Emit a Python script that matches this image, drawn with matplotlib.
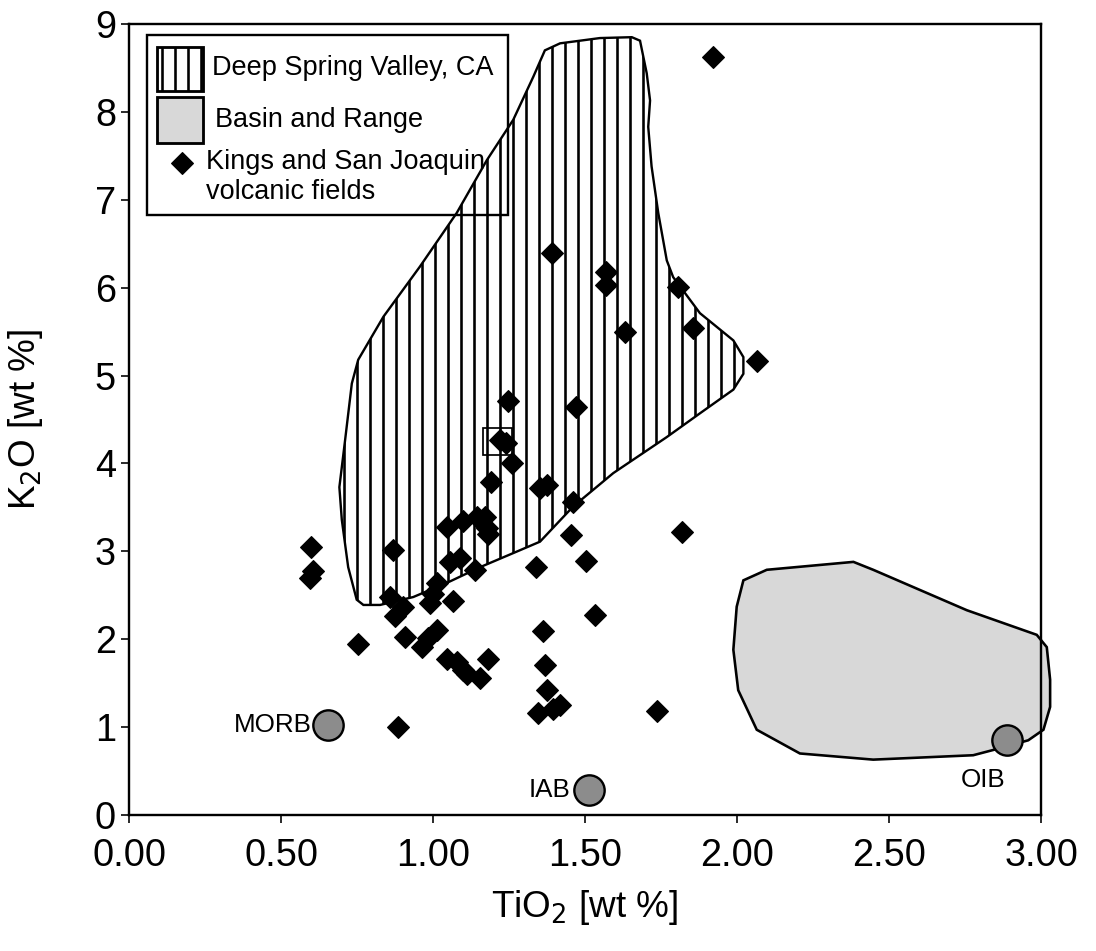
import numpy as np
import matplotlib
matplotlib.use("Agg")
import matplotlib.pyplot as plt
from matplotlib.patches import Polygon, Rectangle

plt.rcParams['font.family'] = ['Liberation Sans', 'DejaVu Sans']
plt.rcParams['hatch.linewidth'] = 2.4

# Kings and San Joaquin volcanic fields (TiO2, K2O)
tio2 = [1.92, 1.39, 1.57, 1.57, 1.805, 1.632, 1.854, 2.065, 1.246, 1.47,
        1.22, 1.24, 1.259, 1.19, 1.352, 1.374, 1.46, 1.045, 1.10, 1.144,
        1.171, 1.182, 1.176, 0.87, 0.60, 0.595, 0.605, 1.056, 1.089, 1.138,
        0.859, 0.902, 0.875, 1.012, 1.00, 0.99, 1.067, 0.908, 0.754, 1.012,
        0.985, 0.963, 1.045, 1.078, 1.10, 1.155, 1.111, 1.182, 1.339, 1.453,
        1.503, 1.533, 1.363, 1.368, 1.374, 1.346, 1.396, 1.418, 1.738, 0.886,
        1.818]
k2o = [8.62, 6.39, 6.18, 6.03, 6.01, 5.50, 5.54, 5.16, 4.71, 4.64,
       4.27, 4.23, 4.00, 3.79, 3.72, 3.75, 3.56, 3.28, 3.34, 3.39,
       3.39, 3.20, 3.26, 3.01, 3.05, 2.70, 2.78, 2.88, 2.92, 2.79,
       2.48, 2.37, 2.26, 2.64, 2.52, 2.41, 2.43, 2.03, 1.94, 2.10,
       2.01, 1.91, 1.78, 1.74, 1.65, 1.56, 1.60, 1.78, 2.82, 3.19,
       2.89, 2.28, 2.09, 1.71, 1.42, 1.16, 1.21, 1.25, 1.18, 1.00,
       3.22]

# Deep Spring Valley field outline
dsv_x = [1.368, 1.418, 1.549, 1.654, 1.681, 1.703, 1.714, 1.708, 1.719, 1.741,
         1.769, 1.790, 1.878, 1.988, 2.021, 2.021, 1.988, 1.878, 1.769, 1.593,
         1.461, 1.352, 1.264, 1.155, 1.045, 0.935, 0.826, 0.771, 0.749, 0.721,
         0.700, 0.692, 0.711, 0.733, 0.754, 0.837, 0.957, 1.078, 1.177, 1.264,
         1.330]
dsv_y = [8.70, 8.78, 8.84, 8.85, 8.81, 8.44, 8.13, 7.83, 7.38, 6.85,
         6.31, 6.12, 5.71, 5.40, 5.21, 5.02, 4.84, 4.57, 4.30, 3.89,
         3.51, 3.11, 2.98, 2.82, 2.64, 2.48, 2.39, 2.39, 2.45, 2.82,
         3.36, 3.73, 4.27, 4.91, 5.18, 5.67, 6.24, 6.85, 7.45, 7.91,
         8.40]

# Basin and Range field outline
br_x = [2.021, 2.098, 2.383, 2.448, 2.756, 2.986, 3.019, 3.030, 3.030, 3.008,
        2.958, 2.865, 2.777, 2.448, 2.207, 2.065, 2.004, 1.988, 1.999]
br_y = [2.67, 2.79, 2.88, 2.79, 2.33, 2.05, 1.91, 1.54, 1.23, 0.97,
        0.85, 0.76, 0.68, 0.63, 0.70, 0.97, 1.42, 1.88, 2.37]

# reference basalt types
ref_names = ['MORB', 'IAB', 'OIB']
ref_tio2 = [0.656, 1.512, 2.889]
ref_k2o = [1.02, 0.28, 0.85]

# small box inside the hatched field
box_x = [1.163, 1.261]
box_y = [4.10, 4.40]

DPI = 78
fig = plt.figure(figsize=(1096 / DPI, 951 / DPI), dpi=DPI)
ax = fig.add_axes([129 / 1096, 136 / 951, 912 / 1096, 791 / 951])

ax.add_patch(Polygon(np.column_stack([dsv_x, dsv_y]), closed=True,
                     facecolor='white', edgecolor='black', hatch='|',
                     lw=2.2, zorder=2))
ax.add_patch(Polygon(np.column_stack([br_x, br_y]), closed=True,
                     facecolor='#d8d8d8', edgecolor='black', lw=2.4,
                     zorder=2, clip_on=False))
ax.add_patch(Rectangle((box_x[0], box_y[0]), box_x[1] - box_x[0],
                       box_y[1] - box_y[0], facecolor='none',
                       edgecolor='black', lw=1.6, zorder=3))

ax.plot(tio2, k2o, 'D', color='black', ms=14, zorder=4, clip_on=False)
ax.plot(ref_tio2, ref_k2o, 'o', ms=28, mfc='#8c8c8c', mec='black',
        mew=2.2, zorder=5, clip_on=False)

offsets = {'MORB': (-15, 0, 'right'), 'IAB': (-17, 0, 'right'),
           'OIB': (-22, -37, 'center')}
for name, x, y in zip(ref_names, ref_tio2, ref_k2o):
    dx, dy, ha = offsets[name]
    ax.annotate(name, (x, y), xytext=(dx, dy), textcoords='offset points',
                ha=ha, va='center', fontsize=24, zorder=6)

# legend drawn by hand so the diamond sits next to the first line
ax.add_patch(Rectangle((0.0194, 0.7585), 0.3965, 0.2276, transform=ax.transAxes,
                       facecolor='none', edgecolor='black', lw=2.2,
                       zorder=6, clip_on=False))
ax.add_patch(Rectangle((0.0304, 0.9148), 0.0504, 0.0565, transform=ax.transAxes,
                       facecolor='white', edgecolor='black', hatch='|',
                       lw=2.6, zorder=6))
ax.add_patch(Rectangle((0.0304, 0.8500), 0.0504, 0.0581, transform=ax.transAxes,
                       facecolor='#d8d8d8', edgecolor='black', lw=2.6, zorder=6))
ax.plot([0.0578], [0.8239], 'D', color='black', ms=14,
        transform=ax.transAxes, zorder=6)
legend_fs = 25
ax.text(0.0907, 0.9440, 'Deep Spring Valley, CA', transform=ax.transAxes,
        fontsize=legend_fs, va='center', zorder=7)
ax.text(0.0943, 0.8786, 'Basin and Range', transform=ax.transAxes,
        fontsize=legend_fs, va='center', zorder=7)
ax.text(0.0844, 0.8259, 'Kings and San Joaquin', transform=ax.transAxes,
        fontsize=legend_fs, va='center', zorder=7)
ax.text(0.0844, 0.7880, 'volcanic fields', transform=ax.transAxes,
        fontsize=legend_fs, va='center', zorder=7)

ax.set_xlim(0, 3)
ax.set_ylim(0, 9)
xt = [0, 0.5, 1.0, 1.5, 2.0, 2.5, 3.0]
ax.set_xticks(xt)
ax.set_xticklabels(['%.2f' % v for v in xt])
ax.set_yticks(range(10))
ax.tick_params(direction='out', length=7, width=1.5, labelsize=35)
ax.tick_params(axis='x', pad=14)
ax.tick_params(axis='y', pad=5)
for s in ax.spines.values():
    s.set_linewidth(2.2)

ax.set_xlabel('TiO$_2$ [wt %]', fontsize=34)
ax.set_ylabel('K$_2$O [wt %]', fontsize=34)
ax.xaxis.set_label_coords(0.5, -0.092)
ax.yaxis.set_label_coords(-0.092, 0.5)

fig.savefig('out.png', dpi=DPI)
